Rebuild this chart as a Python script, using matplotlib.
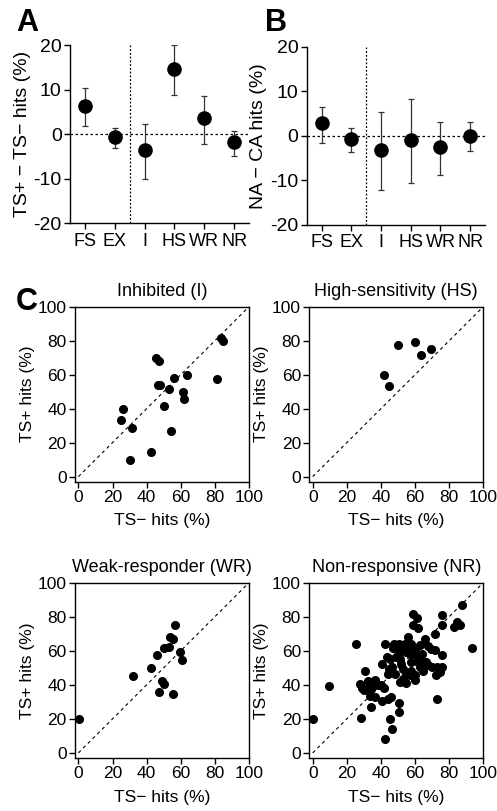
import matplotlib
matplotlib.use("Agg")
import matplotlib.pyplot as plt
import numpy as np

plt.rcParams['font.family'] = ['Liberation Sans', 'DejaVu Sans']
plt.rcParams['axes.unicode_minus'] = False

# ---------------- data ----------------
groups = ["FS", "EX", "I", "HS", "WR", "NR"]

a_mean = [6.3, -0.7, -3.5, 14.6, 3.7, -1.9]
a_low = [1.8, -3.2, -10.1, 8.8, -2.2, -4.9]
a_high = [10.3, 1.4, 2.2, 20.0, 8.5, 0.7]

b_mean = [2.8, -0.7, -3.2, -1.0, -2.6, 0.0]
b_low = [-1.6, -3.6, -12.1, -10.6, -8.8, -3.4]
b_high = [6.4, 1.8, 5.3, 8.2, 3.1, 3.1]

i_x = [83.3, 84.5, 45.3, 47.4, 56.2, 63.6, 81.4, 46.4, 47.8, 52.9, 61.3, 61.9,
       50.0, 26.3, 25.0, 31.2, 54.4, 42.5, 30.0]
i_y = [81.5, 79.9, 69.7, 68.0, 58.3, 59.9, 57.6, 54.2, 54.0, 51.5, 49.9, 45.4,
       41.5, 39.9, 33.4, 28.5, 27.1, 14.7, 10.0]

hs_x = [50.0, 60.2, 63.3, 69.4, 41.8, 44.5]
hs_y = [77.6, 79.0, 71.3, 74.9, 59.9, 53.2]

wr_x = [0.6, 56.6, 53.9, 55.4, 52.9, 50.3, 46.2, 59.3, 60.7, 42.3, 32.0, 48.8,
        50.3, 47.0, 55.2]
wr_y = [20.0, 75.1, 68.0, 66.7, 62.5, 61.6, 57.8, 59.0, 54.7, 50.0, 45.1, 42.5,
        40.4, 35.5, 34.5]

nr_x = [0.0, 9.4, 25.5, 28.4, 30.6, 27.5, 29.0, 30.2, 32.4, 33.3, 34.3, 36.3,
        33.7, 33.9, 40.6, 42.2, 43.5, 44.1, 44.7, 46.5, 40.2, 41.6, 40.8, 44.1,
        46.1, 50.6, 50.6, 45.1, 46.7, 42.4, 47.6, 49.0, 50.6, 47.1, 52.0, 58.8,
        61.2, 58.8, 62.0, 56.1, 53.9, 55.9, 54.9, 56.9, 59.8, 62.7, 65.7, 67.3,
        64.3, 66.3, 61.8, 57.8, 51.0, 49.0, 52.9, 54.9, 57.8, 59.8, 56.9, 54.5,
        59.8, 62.7, 64.7, 67.6, 70.2, 72.9, 75.5, 72.2, 74.5, 71.6, 75.5, 71.8,
        75.5, 75.5, 82.7, 84.3, 86.3, 87.3, 93.1, 72.9, 51.0, 52.9, 50.0, 57.8,
        60.8, 63.7, 69.6, 48.0, 52.0, 36.3, 38.2, 45.1]
nr_y = [20.0, 39.2, 63.7, 20.6, 48.4, 40.6, 38.0, 36.7, 42.0, 39.6, 37.6, 42.7,
        33.7, 26.7, 52.2, 63.7, 56.3, 46.5, 49.4, 50.2, 39.6, 38.0, 30.2, 31.8,
        32.7, 29.2, 24.3, 20.0, 14.3, 8.4, 64.1, 62.2, 64.1, 61.6, 61.2, 81.8,
        79.2, 74.9, 73.5, 68.2, 64.1, 62.2, 59.2, 58.2, 60.2, 63.5, 66.7, 63.1,
        58.2, 53.3, 53.3, 53.3, 55.3, 56.3, 49.4, 46.5, 48.4, 45.5, 45.5, 41.0,
        42.9, 50.4, 48.4, 51.4, 50.4, 50.4, 50.4, 45.9, 47.5, 60.2, 57.3, 69.8,
        74.9, 80.8, 73.9, 76.9, 75.3, 86.7, 61.6, 31.8, 41.6, 43.5, 57.3, 64.1,
        57.3, 55.3, 61.2, 46.5, 52.4, 32.7, 39.6, 55.3]

W, H = 497, 811
fig = plt.figure(figsize=(W / 100, H / 100), dpi=100)


def box(l, t, r, b):
    return [l / W, 1 - b / H, (r - l) / W, (b - t) / H]


def summary_panel(ax, mean, low, high, ylabel):
    x = np.arange(len(groups))
    mean = np.array(mean)
    yerr = [mean - np.array(low), np.array(high) - mean]
    ax.axhline(0, color='black', lw=0.9, ls=(0, (2, 2)), zorder=1)
    ax.axvline(1.5, color='black', lw=0.9, ls=(0, (1.5, 1.5)), zorder=1)
    ax.errorbar(x, mean, yerr=yerr, fmt='o', color='black', ms=9.5,
                ecolor='#333333', elinewidth=0.9, capsize=2.2, capthick=0.9,
                zorder=3)
    ax.set_xlim(-0.5, 5.5)
    ax.set_ylim(-20, 20)
    ax.set_yticks([-20, -10, 0, 10, 20])
    ax.set_xticks(x)
    ax.set_xticklabels(groups)
    ax.spines['top'].set_visible(False)
    ax.spines['right'].set_visible(False)
    for s in ('left', 'bottom'):
        ax.spines[s].set_linewidth(1.0)
    ax.tick_params(direction='out', length=4, width=1.0, labelsize=14, pad=2)
    ax.tick_params(axis='x', labelsize=13, pad=3)
    ax.set_ylabel(ylabel, fontsize=14, labelpad=2)


axA = fig.add_axes(box(70, 45, 249, 223))
summary_panel(axA, a_mean, a_low, a_high, "TS+ \u2212 TS\u2212 hits (%)")
axB = fig.add_axes(box(306.7, 46.7, 485, 224.7))
summary_panel(axB, b_mean, b_low, b_high, "NA \u2212 CA hits (%)")


def scatter_panel(ax, xs, ys, title):
    ax.plot([0, 100], [0, 100], color='black', lw=0.8, ls=(0, (3, 3)), zorder=1)
    ax.plot(xs, ys, 'o', color='black', ms=5.5, mec='black', zorder=3)
    ax.set_xlim(-2, 100)
    ax.set_ylim(-3, 100)
    ticks = [0, 20, 40, 60, 80, 100]
    ax.set_xticks(ticks)
    ax.set_yticks(ticks)
    for s in ax.spines.values():
        s.set_linewidth(1.0)
    ax.tick_params(direction='out', length=4, width=1.0, labelsize=12.5, pad=2)
    ax.set_xlabel("TS\u2212 hits (%)", fontsize=12.5, labelpad=6)
    ax.set_ylabel("TS+ hits (%)", fontsize=12.5, labelpad=2)
    ax.set_title(title, fontsize=13, pad=8)


axC1 = fig.add_axes(box(75, 306.7, 249, 481.7))
scatter_panel(axC1, i_x, i_y, "Inhibited (I)")
axC2 = fig.add_axes(box(309.3, 306.7, 483.3, 481.7))
scatter_panel(axC2, hs_x, hs_y, "High-sensitivity (HS)")
axC3 = fig.add_axes(box(75, 582.7, 249, 758))
scatter_panel(axC3, wr_x, wr_y, "Weak-responder (WR)")
axC4 = fig.add_axes(box(309.3, 582.7, 483.3, 758))
scatter_panel(axC4, nr_x, nr_y, "Non-responsive (NR)")

for lab, x, y in (("A", 16, 8), ("B", 265, 8), ("C", 16, 287)):
    fig.text(x / W, 1 - y / H, lab, fontsize=22, fontweight='bold',
             ha='left', va='top')

fig.savefig("out.png", dpi=100)
